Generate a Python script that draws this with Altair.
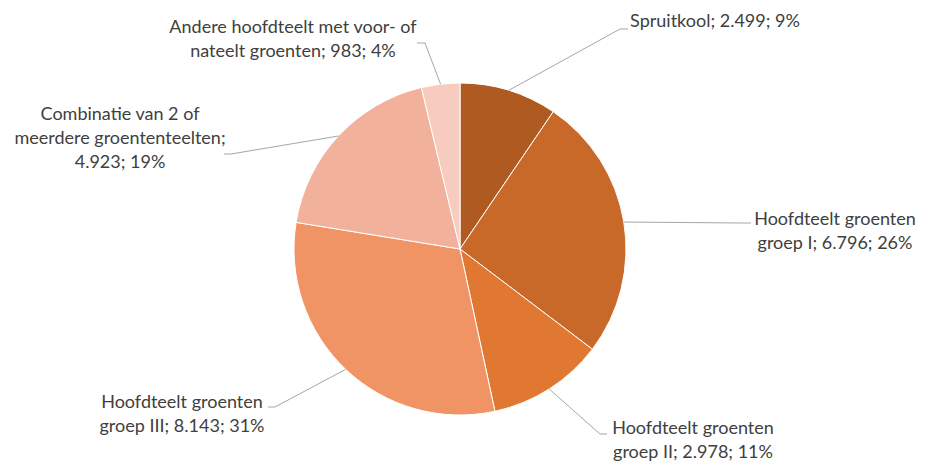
import altair as alt
import pandas as pd
import numpy as np

# ---- data ----
categories = [
    "Spruitkool",
    "Hoofdteelt groenten groep I",
    "Hoofdteelt groenten groep II",
    "Hoofdteelt groenten groep III",
    "Combinatie van 2 of meerdere groententeelten",
    "Andere hoofdteelt met voor- of nateelt groenten",
]
values = [2499, 6796, 2978, 8143, 4923, 983]
percents = [9, 26, 11, 31, 19, 4]
label_lines = [
    ["Spruitkool; 2.499; 9%"],
    ["Hoofdteelt groenten", "groep I; 6.796; 26%"],
    ["Hoofdteelt groenten", "groep II; 2.978; 11%"],
    ["Hoofdteelt groenten", "groep III; 8.143; 31%"],
    ["Combinatie van 2 of", "meerdere groententeelten;", "4.923; 19%"],
    ["Andere hoofdteelt met voor- of", "nateelt groenten; 983; 4%"],
]
colors = ["#AE5A21", "#C8692A", "#E07832", "#F09466", "#F2B19A", "#F7CBBD"]

# ---- layout (pixel positions inside the chart, style only) ----
W, H = 910, 455
CX, CY, R = 452, 241, 166
# elbow point and end point of each leader line, label centre and line spacing
elbows = [(612, 21), (736, 215), (592, 426), (267, 399), (223, 146), (417, 35)]
ends = [(620, 21), (743, 215), (599, 426), (260, 399), (216, 146), (409, 35)]
label_x = [707, 827, 685, 174, 112, 285]
label_y0 = [14, 212, 421, 395, 107, 20]
line_step = 24

# ---- derived tables ----
pie_df = pd.DataFrame({"cat": categories, "value": values, "idx": range(len(values))})

total = float(sum(values))
cum = np.cumsum([0] + values)
leader_rows = []
for i, c in enumerate(categories):
    mid = (cum[i] + cum[i + 1]) / 2 / total * 2 * np.pi
    ex, ey = CX + R * np.sin(mid), CY - R * np.cos(mid)
    pts = [(ex, ey), elbows[i], ends[i]]
    for k, (px, py) in enumerate(pts):
        leader_rows.append({"cat": c, "k": k, "px": px, "py": py})
leader_df = pd.DataFrame(leader_rows)

text_rows = []
for i, lines in enumerate(label_lines):
    for j, t in enumerate(lines):
        text_rows.append({"t": t, "px": label_x[i], "py": label_y0[i] + j * line_step})
text_df = pd.DataFrame(text_rows)

pie = alt.Chart(pie_df).mark_arc(radius=R, stroke="white", strokeWidth=1).encode(
    theta=alt.Theta("value:Q", stack=True),
    order=alt.Order("idx:Q"),
    color=alt.Color("cat:N", scale=alt.Scale(domain=categories, range=colors), legend=None),
    x=alt.value(CX),
    y=alt.value(CY),
)

leaders = alt.Chart(leader_df).mark_line(color="#A6A6A6", strokeWidth=1).encode(
    x=alt.X("px:Q", scale=None),
    y=alt.Y("py:Q", scale=None),
    detail="cat:N",
    order="k:Q",
)

labels = alt.Chart(text_df).mark_text(
    font="Lato", fontSize=18, color="#404040", align="center", baseline="middle"
).encode(
    x=alt.X("px:Q", scale=None),
    y=alt.Y("py:Q", scale=None),
    text="t:N",
)

chart = alt.layer(pie, leaders, labels).properties(
    width=W, height=H, autosize=alt.AutoSizeParams(type="none"), padding=0
).configure_view(stroke=None)

chart.save("out.html", embed_options={"renderer": "svg", "actions": False})
